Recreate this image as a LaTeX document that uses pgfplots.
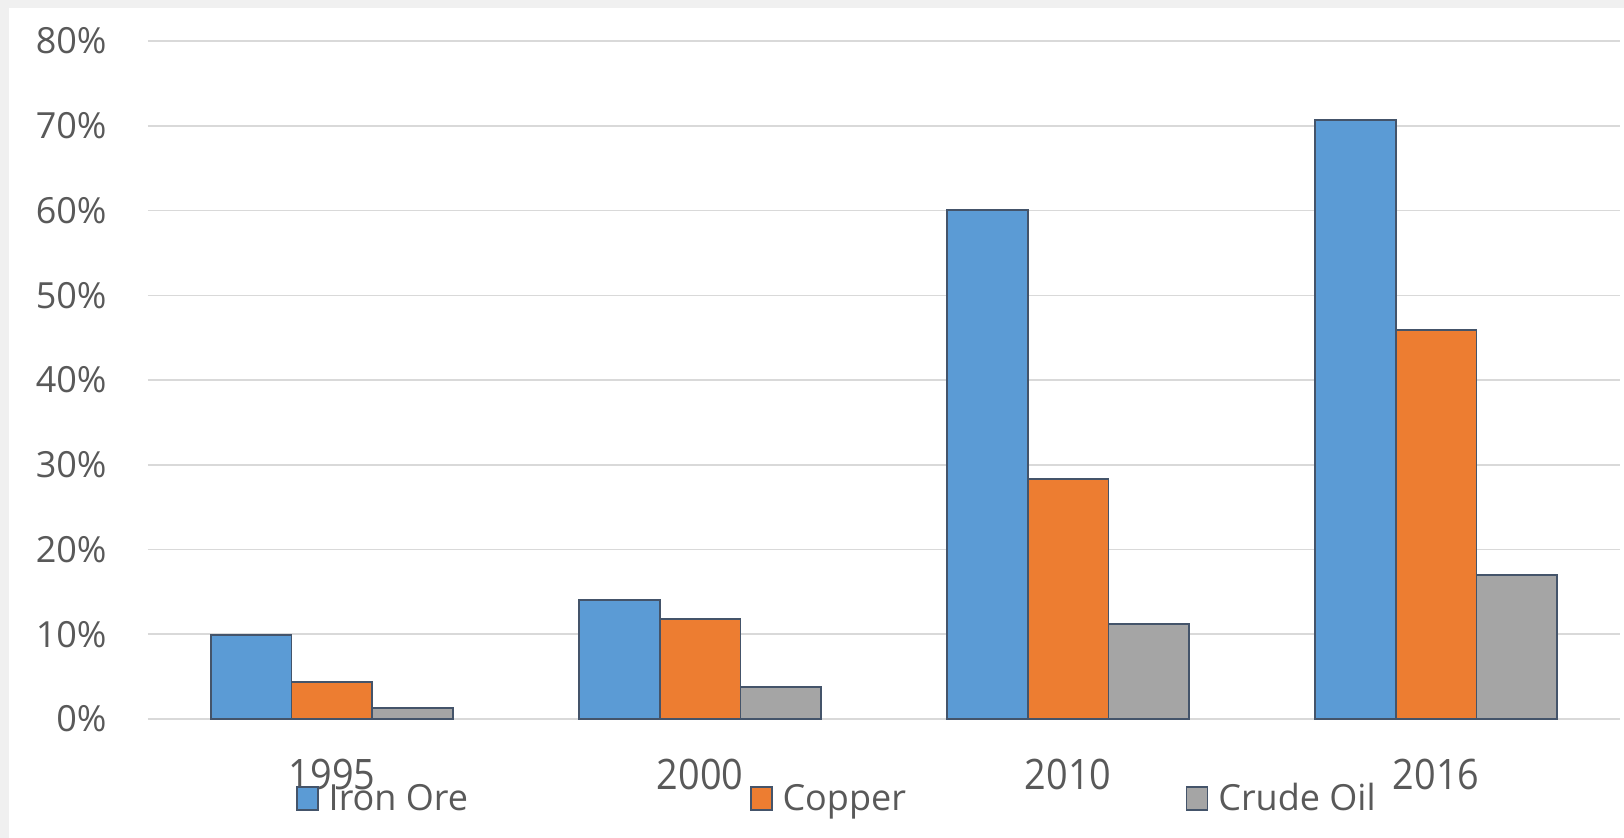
\documentclass[border=0pt]{standalone}
\usepackage{pgfplots}
\pgfplotsset{compat=1.18}
\usepackage{fontspec}
\setmainfont{Open Sans}
\newfontfamily\xlabfont[FakeStretch=0.90]{Open Sans}

\definecolor{ironblue}{HTML}{5B9BD5}
\definecolor{copperorange}{HTML}{ED7D31}
\definecolor{oilgray}{HTML}{A5A5A5}
\definecolor{baredge}{HTML}{44546A}
\definecolor{gridgray}{HTML}{D9D9D9}
\definecolor{labelgray}{HTML}{595959}
\definecolor{framegray}{HTML}{F0F0F0}

% share of imports (percent) by year
% x: 0=1995, 1=2000, 2=2010, 3=2016
\begin{document}
\begin{tikzpicture}
  % page background with a thin frame on the left and top
  \fill[framegray] (-74pt,-59.5pt) rectangle (738pt,359.5pt);
  \fill[white] (-69.5pt,-59.5pt) rectangle (738pt,355.5pt);
  \begin{axis}[
    at={(0pt,0pt)}, anchor=south west,
    scale only axis,
    width=736pt, height=338.9pt,
    ybar=0pt,
    bar width=40.4pt,
    xmin=-0.5, xmax=3.5,
    ymin=0, ymax=80,
    xtick={0,1,2,3},
    xticklabels={1995,2000,2010,2016},
    ytick={0,10,20,30,40,50,60,70,80},
    yticklabels={0\%,10\%,20\%,30\%,40\%,50\%,60\%,70\%,80\%},
    major tick length=0pt,
    axis line style={draw=none},
    ymajorgrids,
    grid style={gridgray, line width=0.8pt},
    yticklabel style={font=\fontsize{18}{20}\selectfont, text=labelgray,
      inner sep=0pt, anchor=base east, xshift=-20.5pt, yshift=-6.4pt},
    xticklabel style={font=\xlabfont\fontsize{21}{24}\selectfont, text=labelgray,
      inner sep=0pt, anchor=base, yshift=-35.5pt},
    legend columns=3,
    legend style={draw=none, fill=none, inner sep=0pt, outer sep=0pt,
      at={(axis description cs:0.1005,-0.1173)}, anchor=west,
      font=\fontsize{18}{20}\selectfont, text=labelgray,
      nodes={inner sep=0pt},
      /tikz/every odd column/.append style={column sep=5pt},
      /tikz/every even column/.append style={column sep=0pt}},
    legend image code/.code={\draw[#1, line width=0.9pt] (0pt,-5.75pt) rectangle (10.5pt,5.75pt);},
    clip=false,
  ]
    \addplot[fill=ironblue, draw=baredge, line width=0.9pt]
      coordinates {(0,9.9) (1,14.05) (2,60.05) (3,70.7)};
    \addplot[fill=copperorange, draw=baredge, line width=0.9pt]
      coordinates {(0,4.4) (1,11.8) (2,28.3) (3,45.9)};
    \addplot[fill=oilgray, draw=baredge, line width=0.9pt]
      coordinates {(0,1.25) (1,3.75) (2,11.2) (3,17.0)};
    \legend{\makebox[210.5pt][l]{Iron Ore},\makebox[201.5pt][l]{Copper},Crude Oil}
  \end{axis}
\end{tikzpicture}
\end{document}
